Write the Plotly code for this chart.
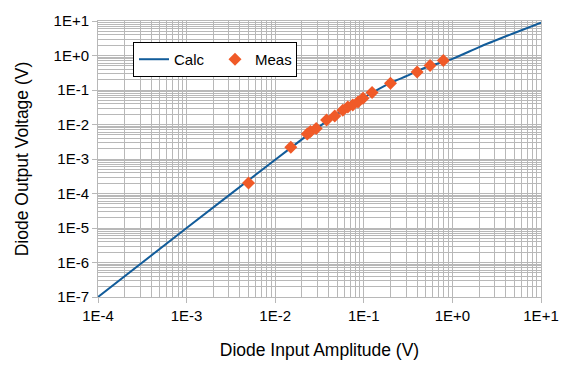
import plotly.graph_objects as go

# Calculated detector curve
calc_x = [1e-4, 1e-3, 1e-2, 2e-2, 3e-2, 5e-2, 0.1, 0.2, 0.3, 0.5, 1.0, 2.0, 5.0, 10.0]
calc_y = [1e-7, 1e-5, 9.5e-4, 3.7e-3, 8e-3, 0.02, 0.06, 0.16, 0.25, 0.45, 0.8, 1.75, 4.5, 9.0]

# Measured points
meas_x = [0.005, 0.015, 0.023, 0.025, 0.029, 0.038, 0.047, 0.058, 0.066, 0.075,
          0.086, 0.098, 0.124, 0.2, 0.4, 0.56, 0.79]
meas_y = [2e-4, 2.2e-3, 5.3e-3, 6.3e-3, 7.7e-3, 0.0135, 0.0176, 0.026, 0.032, 0.037,
          0.045, 0.058, 0.085, 0.156, 0.33, 0.51, 0.72]

x_tick_vals = [1e-4, 1e-3, 1e-2, 1e-1, 1e0, 1e1]
x_tick_text = ["1E-4", "1E-3", "1E-2", "1E-1", "1E+0", "1E+1"]
y_tick_vals = [1e-7, 1e-6, 1e-5, 1e-4, 1e-3, 1e-2, 1e-1, 1e0, 1e1]
y_tick_text = ["1E-7", "1E-6", "1E-5", "1E-4", "1E-3", "1E-2", "1E-1", "1E+0", "1E+1"]

GRID = "#b8b8b8"
FONT = "Liberation Sans, Arial, Helvetica, sans-serif"


def minor_vals(lo, hi):
    return [k * 10.0 ** e for e in range(lo, hi) for k in range(2, 10)]


fig = go.Figure()
fig.add_trace(go.Scatter(
    x=calc_x, y=calc_y, mode="lines", name="Calc",
    line=dict(color="#125C9A", width=2, shape="spline", smoothing=0.6),
))
fig.add_trace(go.Scatter(
    x=meas_x, y=meas_y, mode="markers", name="Meas",
    marker=dict(symbol="diamond", size=10, color="#F05A28"),
))

axis_common = dict(
    type="log",
    showgrid=True, gridcolor=GRID, gridwidth=1,
    showline=True, linecolor=GRID, linewidth=1, mirror=True,
    ticks="outside", ticklen=5, tickcolor=GRID,
    tickfont=dict(size=15, color="black", family=FONT),
    zeroline=False, automargin=False,
)

fig.update_xaxes(
    **axis_common,
    range=[-4, 1],
    tickmode="array", tickvals=x_tick_vals, ticktext=x_tick_text,
    minor=dict(tickmode="array", tickvals=minor_vals(-4, 1), showgrid=True,
               gridcolor=GRID, gridwidth=1, ticklen=0),
    title=dict(text="Diode Input Amplitude (V)", font=dict(size=17.5, color="black", family=FONT),
               standoff=20),
)
fig.update_yaxes(
    **axis_common,
    range=[-7, 1],
    tickmode="array", tickvals=y_tick_vals, ticktext=y_tick_text,
    minor=dict(tickmode="array", tickvals=minor_vals(-7, 1), showgrid=True,
               gridcolor=GRID, gridwidth=1, ticklen=0),
    title=dict(text="Diode Output Voltage (V)", font=dict(size=17.5, color="black", family=FONT),
               standoff=20),
)

fig.update_layout(
    width=569, height=381,
    margin=dict(l=98, r=28, t=21, b=84),
    paper_bgcolor="white", plot_bgcolor="white",
    font=dict(family=FONT, color="black"),
    showlegend=True,
    legend=dict(
        orientation="h", x=0.079, y=0.924, xanchor="left", yanchor="top",
        bgcolor="white", bordercolor="black", borderwidth=1,
        font=dict(size=15, color="black", family=FONT),
        itemwidth=30, tracegroupgap=0,
        entrywidth=36, entrywidthmode="pixels",
    ),
)

fig.write_html(
    "out.html",
    config={"displayModeBar": False},
    post_script="document.body.style.margin='0';document.body.style.overflow='hidden';",
)
